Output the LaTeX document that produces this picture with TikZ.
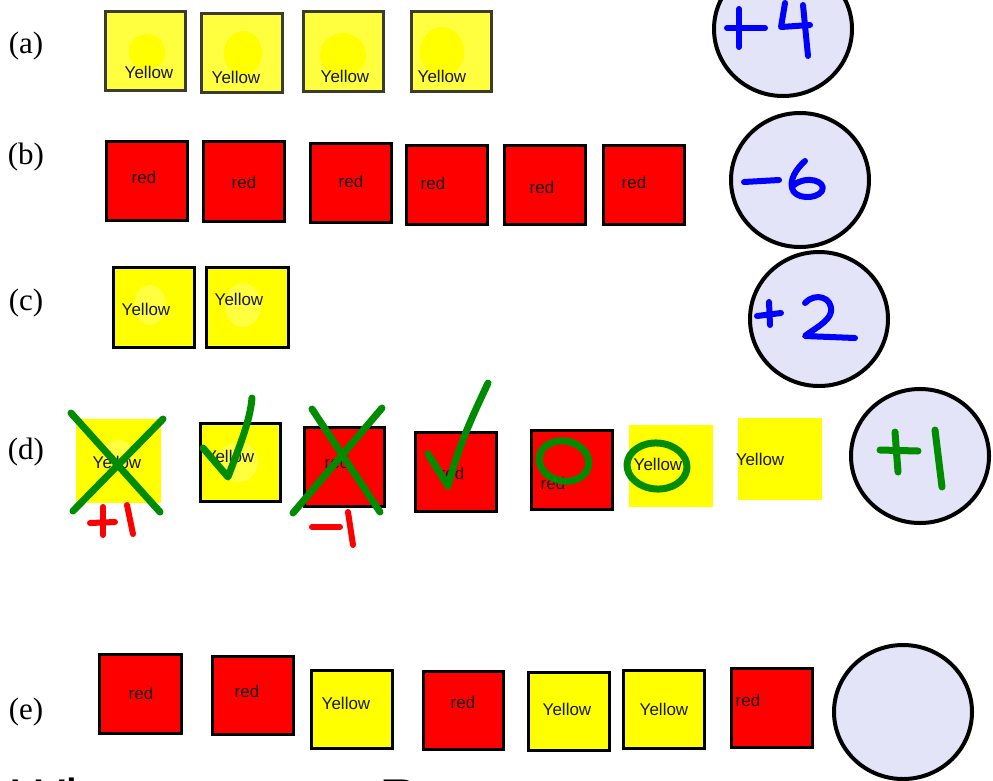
\documentclass[tikz,border=0pt]{standalone}
\usepackage{fontspec}
\setmainfont{Liberation Serif}
\newfontfamily\cardfont{Liberation Sans}
\usetikzlibrary{shapes.geometric}
\definecolor{cRed}{RGB}{255,0,0}
\definecolor{cYel}{RGB}{255,255,0}
\definecolor{cLight}{RGB}{255,255,64}
\definecolor{cOlive}{RGB}{60,60,40}
\definecolor{cLav}{RGB}{228,228,248}
\definecolor{cGreen}{RGB}{0,140,0}
\definecolor{cBlue}{RGB}{0,0,255}
\newcommand\mycard[6]{\node[#1, minimum width={#5-#3}, minimum height={#6-#4}] (#2) at ({(#3+#5)/2},{(#4+#6)/2}) {};}
\begin{document}
\begin{tikzpicture}[x=1pt,y=-1pt,
  cardbase/.style={rectangle, inner sep=0pt, outer sep=0pt},
  redcard/.style={cardbase, fill=cRed, draw=black, line width=3pt},
  yelcard/.style={cardbase, fill=cYel, draw=black, line width=3pt},
  acard/.style={cardbase, fill=cLight, draw=cOlive, line width=3pt},
  plainyel/.style={cardbase, fill=cYel},
  txt/.style={font=\cardfont\fontsize{17}{17}\selectfont, text=black!90, inner sep=0pt},
  rowlabel/.style={font=\fontsize{31}{31}\selectfont, inner sep=0pt},
  score/.style={ellipse, draw=black, line width=4pt, fill=cLav, minimum width=138pt, minimum height=134pt, inner sep=0pt},
  greenstroke/.style={draw=cGreen, line width=7pt, line cap=round, line join=round},
  bluestroke/.style={draw=cBlue, line width=6pt, line cap=round, line join=round},
  redstroke/.style={draw=cRed, line width=6pt, line cap=round, line join=round}]
\clip (0,0) rectangle (993,780);
\fill[white] (0,0) rectangle (993,780);

% row labels
\node[rowlabel] (la) at (26,46) {(a)};
\node[rowlabel] (lb) at (26,157) {(b)};
\node[rowlabel] (lc) at (26,303) {(c)};
\node[rowlabel] (ld) at (26,452) {(d)};
\node[rowlabel] (le) at (26,712) {(e)};

% row (a)
\mycard{acard}{a1}{105}{11}{185}{90}
\mycard{acard}{a2}{201}{13}{282}{92}
\mycard{acard}{a3}{303}{11}{383}{91}
\mycard{acard}{a4}{411}{11}{491}{91}
\fill[cYel] (147,52) ellipse [x radius=18, y radius=18];
\fill[cYel] (243,53) ellipse [x radius=19, y radius=22];
\fill[cYel] (343,55) ellipse [x radius=23, y radius=22];
\fill[cYel] (442,52) ellipse [x radius=22, y radius=25];
\node[txt] (a1t) at (149,72) {Yellow};
\node[txt] (a2t) at (236,77) {Yellow};
\node[txt] (a3t) at (345,76) {Yellow};
\node[txt] (a4t) at (442,76) {Yellow};
\node[score] (sa) at (783,29) {};
\draw[bluestroke] (727,28) -- (765,28);
\draw[bluestroke] (739,9) -- (739,47);
\draw[bluestroke] (785,3) -- (781,27) -- (810,25);
\draw[bluestroke] (803,5) -- (808,56);

% row (b)
\mycard{redcard}{b1}{106}{141}{187}{220}
\mycard{redcard}{b2}{203}{141}{284}{221}
\mycard{redcard}{b3}{310}{143}{391}{222}
\mycard{redcard}{b4}{406}{145}{487}{224}
\mycard{redcard}{b5}{504}{145}{585}{224}
\mycard{redcard}{b6}{603}{145}{684}{224}
\node[txt] (b1t) at (144,177) {red};
\node[txt] (b2t) at (244,182) {red};
\node[txt] (b3t) at (351,181) {red};
\node[txt] (b4t) at (433,183) {red};
\node[txt] (b5t) at (542,187) {red};
\node[txt] (b6t) at (634,182) {red};
\node[score] (sb) at (800,180) {};
\draw[bluestroke] (744,182) -- (779,180);
\draw[bluestroke] (805,161) .. controls (795,170) and (790,180) .. (792,188)
  .. controls (794,199) and (816,200) .. (822,191)
  .. controls (827,181) and (806,175) .. (794,185);

% row (c)
\mycard{yelcard}{c1}{113}{267}{194}{347}
\mycard{yelcard}{c2}{206}{267}{288}{347}
\fill[cLight] (150,305) ellipse [x radius=16, y radius=20];
\fill[cLight] (243,305) ellipse [x radius=18, y radius=22];
\node[txt] (c1t) at (146,309) {Yellow};
\node[txt] (c2t) at (239,299) {Yellow};
\node[score] (sc) at (819,319) {};
\draw[bluestroke] (757,316) -- (781,313);
\draw[bluestroke] (769,302) -- (770,325);
\draw[bluestroke] (805,303) .. controls (815,292) and (833,297) .. (831,312)
  .. controls (829,322) and (812,330) .. (805,336) -- (855,338);

% row (d)
\mycard{plainyel}{d1}{76}{419}{161}{503}
\mycard{yelcard}{d2}{200}{423}{280}{501}
\mycard{redcard}{d3}{304}{427}{384}{506}
\mycard{redcard}{d4}{415}{432}{496}{511}
\mycard{redcard}{d5}{531}{430}{612}{509}
\mycard{plainyel}{d6}{629}{425}{713}{507}
\mycard{plainyel}{d7}{738}{418}{822}{500}
\fill[cLight] (118,455) ellipse [x radius=15, y radius=15];
\fill[cLight] (238,462) ellipse [x radius=20, y radius=20];
\node[txt] (d1t) at (117,462) {Yellow};
\node[txt] (d2t) at (230,456) {Yellow};
\node[txt] (d3t) at (337,462) {red};
\node[txt] (d4t) at (452,473) {red};
\node[txt] (d5t) at (553,483) {red};
\node[txt] (d6t) at (658,464) {Yellow};
\node[txt] (d7t) at (760,459) {Yellow};
% green marks
\draw[greenstroke] (71,413) -- (160,512);
\draw[greenstroke] (73,511) -- (163,419);
\draw[greenstroke] (203,448) -- (228,477) .. controls (238,450) and (250,422) .. (252,398);
\draw[greenstroke] (312,409) -- (380,512);
\draw[greenstroke] (293,513) -- (382,408);
\draw[greenstroke] (428,454) -- (448,486) .. controls (460,440) and (478,405) .. (488,383);
\draw[greenstroke, rotate around={-12:(564,461)}] (564,461) ellipse [x radius=25, y radius=20];
\draw[greenstroke, rotate around={-4:(657,466)}] (657,466) ellipse [x radius=30, y radius=23];
% red marks
\draw[redstroke] (90,523) -- (115,522);
\draw[redstroke] (103,507) -- (103,535);
\draw[redstroke] (127,505) -- (133,534);
\draw[redstroke] (312,527) -- (340,527);
\draw[redstroke] (348,512) -- (353,545);
\node[score] (sd) at (920,456) {};
\draw[greenstroke] (880,450) -- (918,451);
\draw[greenstroke] (895,432) -- (898,472);
\draw[greenstroke] (935,430) -- (942,487);

% row (e)
\mycard{redcard}{e1}{99}{654}{181}{733}
\mycard{redcard}{e2}{212}{656}{293}{734}
\mycard{yelcard}{e3}{311}{670}{392}{748}
\mycard{redcard}{e4}{423}{671}{503}{749}
\mycard{yelcard}{e5}{528}{672}{609}{750}
\mycard{yelcard}{e6}{623}{670}{704}{748}
\mycard{redcard}{e7}{731}{668}{812}{747}
\node[txt] (e1t) at (141,693) {red};
\node[txt] (e2t) at (247,691) {red};
\node[txt] (e3t) at (346,703) {Yellow};
\node[txt] (e4t) at (463,702) {red};
\node[txt] (e5t) at (567,709) {Yellow};
\node[txt] (e6t) at (664,709) {Yellow};
\node[txt] (e7t) at (748,700) {red};
\node[score] (se) at (903,712) {};

% cut-off question (only the tops of its tallest letters show)
\node[font=\cardfont\fontsize{56}{56}\selectfont, anchor=base west, inner sep=0pt] (q) at (12,818) {What are your Responses};
\end{tikzpicture}
\end{document}
